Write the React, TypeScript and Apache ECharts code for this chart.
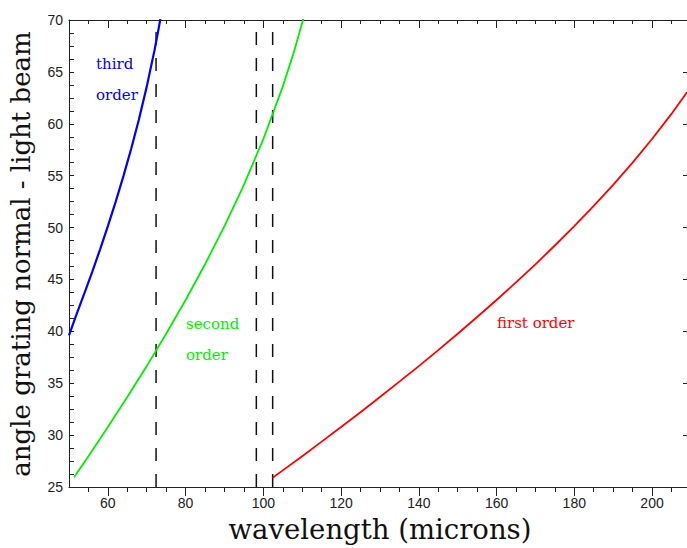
import React, { useEffect, useRef } from "react";
import * as echarts from "echarts";

// ---- data ----
const thirdX = [50, 52, 54, 56, 58, 60, 62, 64, 66, 68, 70, 72, 73, 73.5];
const thirdY = [39.6, 41.71, 43.7, 45.76, 47.9, 50.14, 52.48, 54.96, 57.6, 60.44, 63.58, 67.08, 69.05, 70.09];

const secondX = [51.3, 55, 60, 65, 70, 75, 80, 85, 90, 95, 100, 105, 108, 110, 110.5];
const secondY = [25.95, 27.97, 30.78, 33.67, 36.65, 39.77, 43.02, 46.46, 50.14, 54.12, 58.53, 63.58, 67.08, 69.73, 70.45];

const firstX = [102.4, 105, 110, 115, 120, 125, 130, 135, 140, 145, 150, 155, 160, 165, 170, 175, 180, 185, 190, 195, 200, 205, 209];
const firstY = [25.89, 26.6, 27.97, 29.37, 30.78, 32.21, 33.67, 35.15, 36.65, 38.19, 39.77, 41.38, 43.02, 44.72, 46.46, 48.27, 50.14, 52.08, 54.12, 56.26, 58.53, 60.95, 63.03];

const dashedX = [72.4, 98.2, 102.4];

const xMin = 50;
const xMax = 209;
const yMin = 25;
const yMax = 70;
const xMajorTicks = [60, 80, 100, 120, 140, 160, 180, 200];
const xMinorTicks = [55, 60, 65, 70, 75, 80, 85, 90, 95, 100, 105, 110, 115, 120, 125, 130, 135, 140, 145, 150, 155, 160, 165, 170, 175, 180, 185, 190, 195, 200, 205];

const xTitle = "wavelength (microns)";
const yTitle = "angle grating normal - light beam";

const zip = (xs: number[], ys: number[]) => xs.map((x, i) => [x, ys[i]]);

export default function App() {
  const ref = useRef<HTMLDivElement>(null);
  useEffect(() => {
    if (!ref.current) return;
    const chart = echarts.init(ref.current, null, { renderer: "svg" });
    const axisColor = "#222";
    const labelFont = { fontFamily: "Liberation Sans", fontSize: 14, color: "#222" };
    const serif = "DejaVu Serif";

    const baseX = {
      type: "value",
      min: xMin,
      max: xMax,
      splitLine: { show: false },
    };

    const option: any = {
      animation: false,
      backgroundColor: "#fff",
      grid: { left: 69, right: 0, top: 20, bottom: 61, containLabel: false },
      xAxis: [
        {
          ...baseX,
          position: "bottom",
          axisLine: { show: true, lineStyle: { color: axisColor, width: 1 } },
          axisTick: { show: true, inside: false, length: 5, customValues: xMinorTicks, lineStyle: { color: axisColor } },
          axisLabel: { show: false },
        },
        {
          ...baseX,
          position: "bottom",
          axisLine: { show: false },
          axisTick: { show: true, inside: false, length: 9, customValues: xMajorTicks, lineStyle: { color: axisColor } },
          axisLabel: { show: true, customValues: xMajorTicks, margin: 9, ...labelFont },
        },
        {
          ...baseX,
          position: "top",
          axisLine: { show: true, lineStyle: { color: axisColor, width: 1 } },
          axisTick: { show: true, inside: true, length: 4, customValues: xMinorTicks, lineStyle: { color: axisColor } },
          axisLabel: { show: false },
        },
        {
          ...baseX,
          position: "top",
          axisLine: { show: false },
          axisTick: { show: true, inside: true, length: 8, customValues: xMajorTicks, lineStyle: { color: axisColor } },
          axisLabel: { show: false },
        },
      ],
      yAxis: [
        {
          type: "value",
          position: "left",
          min: yMin,
          max: yMax,
          interval: 5,
          splitLine: { show: false },
          axisLine: { show: true, lineStyle: { color: axisColor, width: 1 } },
          axisTick: { show: true, inside: true, length: 5, lineStyle: { color: axisColor } },
          minorTick: { show: true, splitNumber: 4, length: 5, lineStyle: { color: axisColor } },
          axisLabel: { show: true, margin: 6, ...labelFont },
        },
        {
          type: "value",
          position: "right",
          min: yMin,
          max: yMax,
          interval: 5,
          splitLine: { show: false },
          axisLine: { show: true, lineStyle: { color: axisColor, width: 1 } },
          axisTick: { show: true, inside: true, length: 4, lineStyle: { color: axisColor } },
          axisLabel: { show: false },
        },
      ],
      series: [
        ...dashedX.map((x) => ({
          type: "line",
          xAxisIndex: 0,
          yAxisIndex: 0,
          data: [[x, yMin], [x, yMax]],
          showSymbol: false,
          silent: true,
          lineStyle: { color: "#111", width: 1.5, type: [13, 13] },
        })),
        {
          type: "line",
          name: "third order",
          xAxisIndex: 0,
          yAxisIndex: 0,
          data: zip(thirdX, thirdY),
          showSymbol: false,
          lineStyle: { color: "#0000ff", width: 2.2 },
        },
        {
          type: "line",
          name: "second order",
          xAxisIndex: 0,
          yAxisIndex: 0,
          data: zip(secondX, secondY),
          showSymbol: false,
          lineStyle: { color: "#00ee00", width: 1.8 },
        },
        {
          type: "line",
          name: "first order",
          xAxisIndex: 0,
          yAxisIndex: 0,
          data: zip(firstX, firstY),
          showSymbol: false,
          lineStyle: { color: "#ff0000", width: 1.8 },
        },
      ],
      graphic: [
        { type: "text", x: 96, y: 64, style: { text: "third", fill: "#0000ff", font: `15px "${serif}"`, verticalAlign: "middle", align: "left" } },
        { type: "text", x: 96, y: 95, style: { text: "order", fill: "#0000ff", font: `15px "${serif}"`, verticalAlign: "middle", align: "left" } },
        { type: "text", x: 186, y: 324, style: { text: "second", fill: "#00ee00", font: `15px "${serif}"`, verticalAlign: "middle", align: "left" } },
        { type: "text", x: 186, y: 355, style: { text: "order", fill: "#00ee00", font: `15px "${serif}"`, verticalAlign: "middle", align: "left" } },
        { type: "text", x: 497, y: 323, style: { text: "first order", fill: "#ff0000", font: `15px "${serif}"`, verticalAlign: "middle", align: "left" } },
        { type: "text", x: 380, y: 529, style: { text: xTitle, fill: "#111", font: `27.5px "${serif}"`, verticalAlign: "middle", align: "center" } },
        { type: "text", x: 21, y: 254, rotation: Math.PI / 2, style: { text: yTitle, fill: "#111", font: `26px "${serif}"`, verticalAlign: "middle", align: "center" } },
      ],
    };
    chart.setOption(option);
    return () => chart.dispose();
  }, []);
  return (
    <div
      ref={ref}
      style={{ position: "fixed", left: 0, top: 0, width: 687, height: 548, background: "#fff" }}
    />
  );
}
